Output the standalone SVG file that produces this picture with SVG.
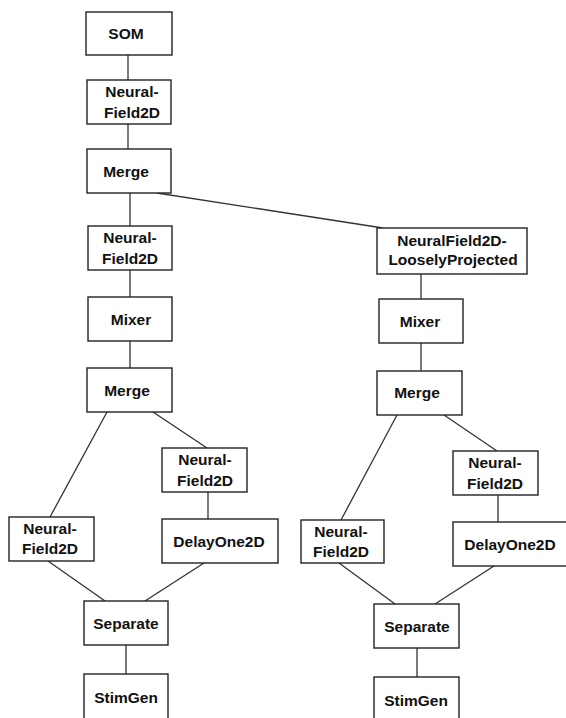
<svg xmlns="http://www.w3.org/2000/svg" width="566" height="718" viewBox="0 0 566 718">
<style>
.box{fill:#fff;stroke:#222;stroke-width:1.4}
.lbl{font-family:"Liberation Sans",Arial,sans-serif;font-weight:bold;font-size:15.5px;fill:#111;text-anchor:middle}
#connectors line{stroke:#333;stroke-width:1.3}
</style>
<rect width="566" height="718" fill="#fff"/>
<g id="connectors">
<line x1="128" y1="55" x2="128" y2="80"/>
<line x1="128" y1="124" x2="128" y2="149"/>
<line x1="130" y1="193" x2="130" y2="226"/>
<line x1="130" y1="270" x2="130" y2="297"/>
<line x1="130" y1="341" x2="130" y2="368"/>
<line x1="107" y1="412" x2="50" y2="517"/>
<line x1="153" y1="412" x2="207" y2="448"/>
<line x1="208" y1="492" x2="208" y2="519"/>
<line x1="48" y1="561" x2="105" y2="601"/>
<line x1="204" y1="563" x2="145" y2="601"/>
<line x1="126" y1="645" x2="126" y2="674"/>
<line x1="157" y1="193" x2="383" y2="228"/>
<line x1="421" y1="274" x2="421" y2="299"/>
<line x1="421" y1="343" x2="421" y2="371"/>
<line x1="397" y1="415" x2="341" y2="520"/>
<line x1="444" y1="415" x2="497" y2="451"/>
<line x1="498" y1="495" x2="498" y2="522"/>
<line x1="339" y1="563" x2="395" y2="604"/>
<line x1="494" y1="566" x2="435" y2="604"/>
<line x1="417" y1="648" x2="417" y2="677"/>
</g>
<g id="som"><rect class="box" x="86" y="12" width="86" height="43"/><text class="lbl" x="126" y="39">SOM</text></g>
<g id="nf1"><rect class="box" x="87" y="80" width="84" height="44"/><text class="lbl" x="132" y="97">Neural-</text><text class="lbl" x="132" y="118">Field2D</text></g>
<g id="merge1"><rect class="box" x="87" y="149" width="84" height="44"/><text class="lbl" x="126" y="177">Merge</text></g>
<g id="nf2"><rect class="box" x="88" y="226" width="84" height="44"/><text class="lbl" x="130" y="243">Neural-</text><text class="lbl" x="130" y="264">Field2D</text></g>
<g id="mixer1"><rect class="box" x="88" y="297" width="84" height="44"/><text class="lbl" x="131" y="325">Mixer</text></g>
<g id="merge2"><rect class="box" x="87" y="368" width="85" height="44"/><text class="lbl" x="127" y="396">Merge</text></g>
<g id="nf3"><rect class="box" x="9" y="517" width="85" height="44"/><text class="lbl" x="50" y="533.5">Neural-</text><text class="lbl" x="50" y="554">Field2D</text></g>
<g id="nf4"><rect class="box" x="162" y="448" width="85" height="44"/><text class="lbl" x="205" y="465">Neural-</text><text class="lbl" x="205" y="486">Field2D</text></g>
<g id="delay1"><rect class="box" x="162" y="519" width="116" height="44"/><text class="lbl" x="219" y="547">DelayOne2D</text></g>
<g id="separate1"><rect class="box" x="84" y="601" width="84" height="44"/><text class="lbl" x="126" y="629">Separate</text></g>
<g id="stimgen1"><rect class="box" x="84" y="674" width="84" height="47"/><text class="lbl" x="126" y="703">StimGen</text></g>
<g id="nflp"><rect class="box" x="377" y="228" width="150" height="46"/><text class="lbl" x="452" y="245.5">NeuralField2D-</text><text class="lbl" x="453" y="265">LooselyProjected</text></g>
<g id="mixer2"><rect class="box" x="379" y="299" width="84" height="44"/><text class="lbl" x="420" y="327">Mixer</text></g>
<g id="merge3"><rect class="box" x="377" y="371" width="85" height="44"/><text class="lbl" x="417" y="398">Merge</text></g>
<g id="nf5"><rect class="box" x="453" y="451" width="85" height="44"/><text class="lbl" x="495" y="468">Neural-</text><text class="lbl" x="495" y="489">Field2D</text></g>
<g id="nf6"><rect class="box" x="301" y="520" width="83" height="43"/><text class="lbl" x="341" y="537">Neural-</text><text class="lbl" x="341" y="557">Field2D</text></g>
<g id="delay2"><rect class="box" x="453" y="522" width="116" height="44"/><text class="lbl" x="510" y="550">DelayOne2D</text></g>
<g id="separate2"><rect class="box" x="374" y="604" width="85" height="44"/><text class="lbl" x="417" y="632">Separate</text></g>
<g id="stimgen2"><rect class="box" x="374" y="677" width="85" height="47"/><text class="lbl" x="416" y="706">StimGen</text></g>
</svg>
